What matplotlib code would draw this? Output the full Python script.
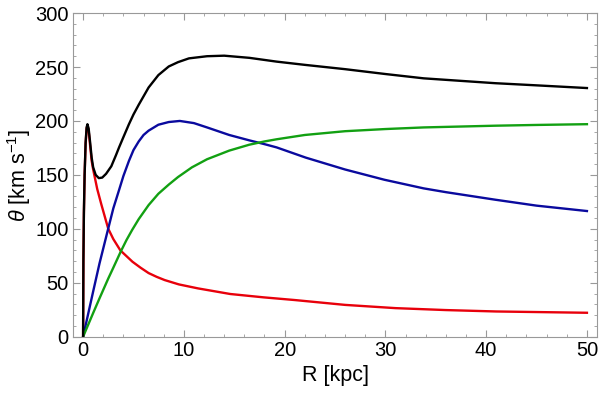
"""Rotation curve: bulge, disk, halo and total circular velocity vs radius."""
import matplotlib
matplotlib.use("Agg")
import matplotlib.pyplot as plt
from matplotlib.ticker import MultipleLocator

plt.rcParams["font.family"] = ["Liberation Sans", "DejaVu Sans"]
plt.rcParams["mathtext.fontset"] = "custom"
plt.rcParams["mathtext.rm"] = "Liberation Sans"
plt.rcParams["mathtext.it"] = "Liberation Sans:italic"

# values (R in kpc, theta in km/s)
r_bulge = [0, 0.03, 0.08, 0.15, 0.25, 0.35, 0.43, 0.55, 0.7, 0.85, 1.0, 1.4, 1.8,
           2.3, 2.5, 3.0, 3.7, 4.9, 5.7, 6.5, 7.3, 8.1, 9.5, 11.4, 14.6, 17.9, 21,
           26, 31, 36, 41, 45.5, 50]
v_bulge = [0, 70, 115, 150, 179, 193, 196, 191, 177, 163, 155, 137, 123,
           106.5, 100, 90.5, 80, 69.5, 64, 59, 55.5, 52.5, 48.5, 44.8, 39.6, 36.5, 34,
           29.5, 26.5, 24.7, 23.4, 22.8, 22.2]

r_disk = [0, 1.0, 1.63, 2.46, 3.0, 3.57, 4.0, 4.55, 5.0, 5.52, 6.0, 6.5, 7.47,
          8.5, 9.6, 11, 12.3, 14.5, 16.5, 18.0, 19.2, 22.1, 26, 29.9, 33.8, 36,
          40.9, 45, 50]
v_disk = [0, 42, 68, 99, 119, 136, 149, 163, 173, 181, 187, 191, 196.5,
          199, 200, 198, 194, 187, 182, 178.5, 175.5, 166, 155, 145.5, 137.5, 134,
          127, 121.5, 116.5]

r_halo = [0, 1.0, 1.63, 2.5, 3.0, 3.74, 4.3, 4.87, 5.52, 6.5, 7.47, 8.5, 9.42,
          10.8, 12.3, 14.5, 16.5, 18.0, 19.2, 22, 26, 30, 33.8, 40.9, 45, 50]
v_halo = [0, 22, 35.6, 54, 64, 79, 89.5, 99, 109, 122, 132.5, 141, 148,
          157, 164.5, 172.5, 178, 181, 183, 187, 190.5, 192.5, 194, 195.6, 196.3, 197]

r_total = [0, 0.03, 0.08, 0.15, 0.25, 0.35, 0.43, 0.55, 0.7, 0.85, 1.0, 1.25, 1.56,
           1.9, 2.28, 2.8, 3.25, 3.57, 4.0, 4.55, 5.0, 5.52, 6.5, 7.47, 8.5, 9.42,
           10.5, 12.3, 14, 16.5, 19.2, 22, 26, 30, 33.8, 40.9, 45, 50]
v_total = [0, 70, 115, 150, 180, 194, 197, 193, 180, 166, 157, 150, 147,
           147.5, 151, 158, 168, 175.5, 185, 197, 206, 215, 231, 242.5, 250.5, 254.5,
           258, 260, 260.5, 258.5, 255, 252, 248, 243.5, 239.5, 235, 233, 230.5]

fig = plt.figure(figsize=(6.0, 3.96), dpi=100)
ax = fig.add_axes([0.1217, 0.1497, 0.8733, 0.8173])

lw = 1.7
ax.plot(r_bulge, v_bulge, color="#e8000b", lw=lw)
ax.plot(r_disk, v_disk, color="#0a0a9e", lw=lw)
ax.plot(r_halo, v_halo, color="#12a012", lw=lw)
ax.plot(r_total, v_total, color="black", lw=lw)

ax.set_xlim(-1, 51)
ax.set_ylim(0, 300)
ax.xaxis.set_major_locator(MultipleLocator(10))
ax.xaxis.set_minor_locator(MultipleLocator(2))
ax.yaxis.set_major_locator(MultipleLocator(50))
ax.yaxis.set_minor_locator(MultipleLocator(10))

for s in ax.spines.values():
    s.set_color("#999999")
    s.set_linewidth(0.8)
ax.tick_params(which="both", direction="in", top=True, right=True,
               color="#999999", labelsize=14.5, labelcolor="black")
ax.tick_params(which="major", length=5, width=0.8, pad=3)
ax.tick_params(which="minor", length=2.5, width=0.6)

ax.set_xlabel("R [kpc]", fontsize=15.5, labelpad=4)
ax.set_ylabel(r"$\mathit{\theta}$ [km s$^{-1}$]", fontsize=15.5, labelpad=2)

fig.savefig("out.png", dpi=100)
